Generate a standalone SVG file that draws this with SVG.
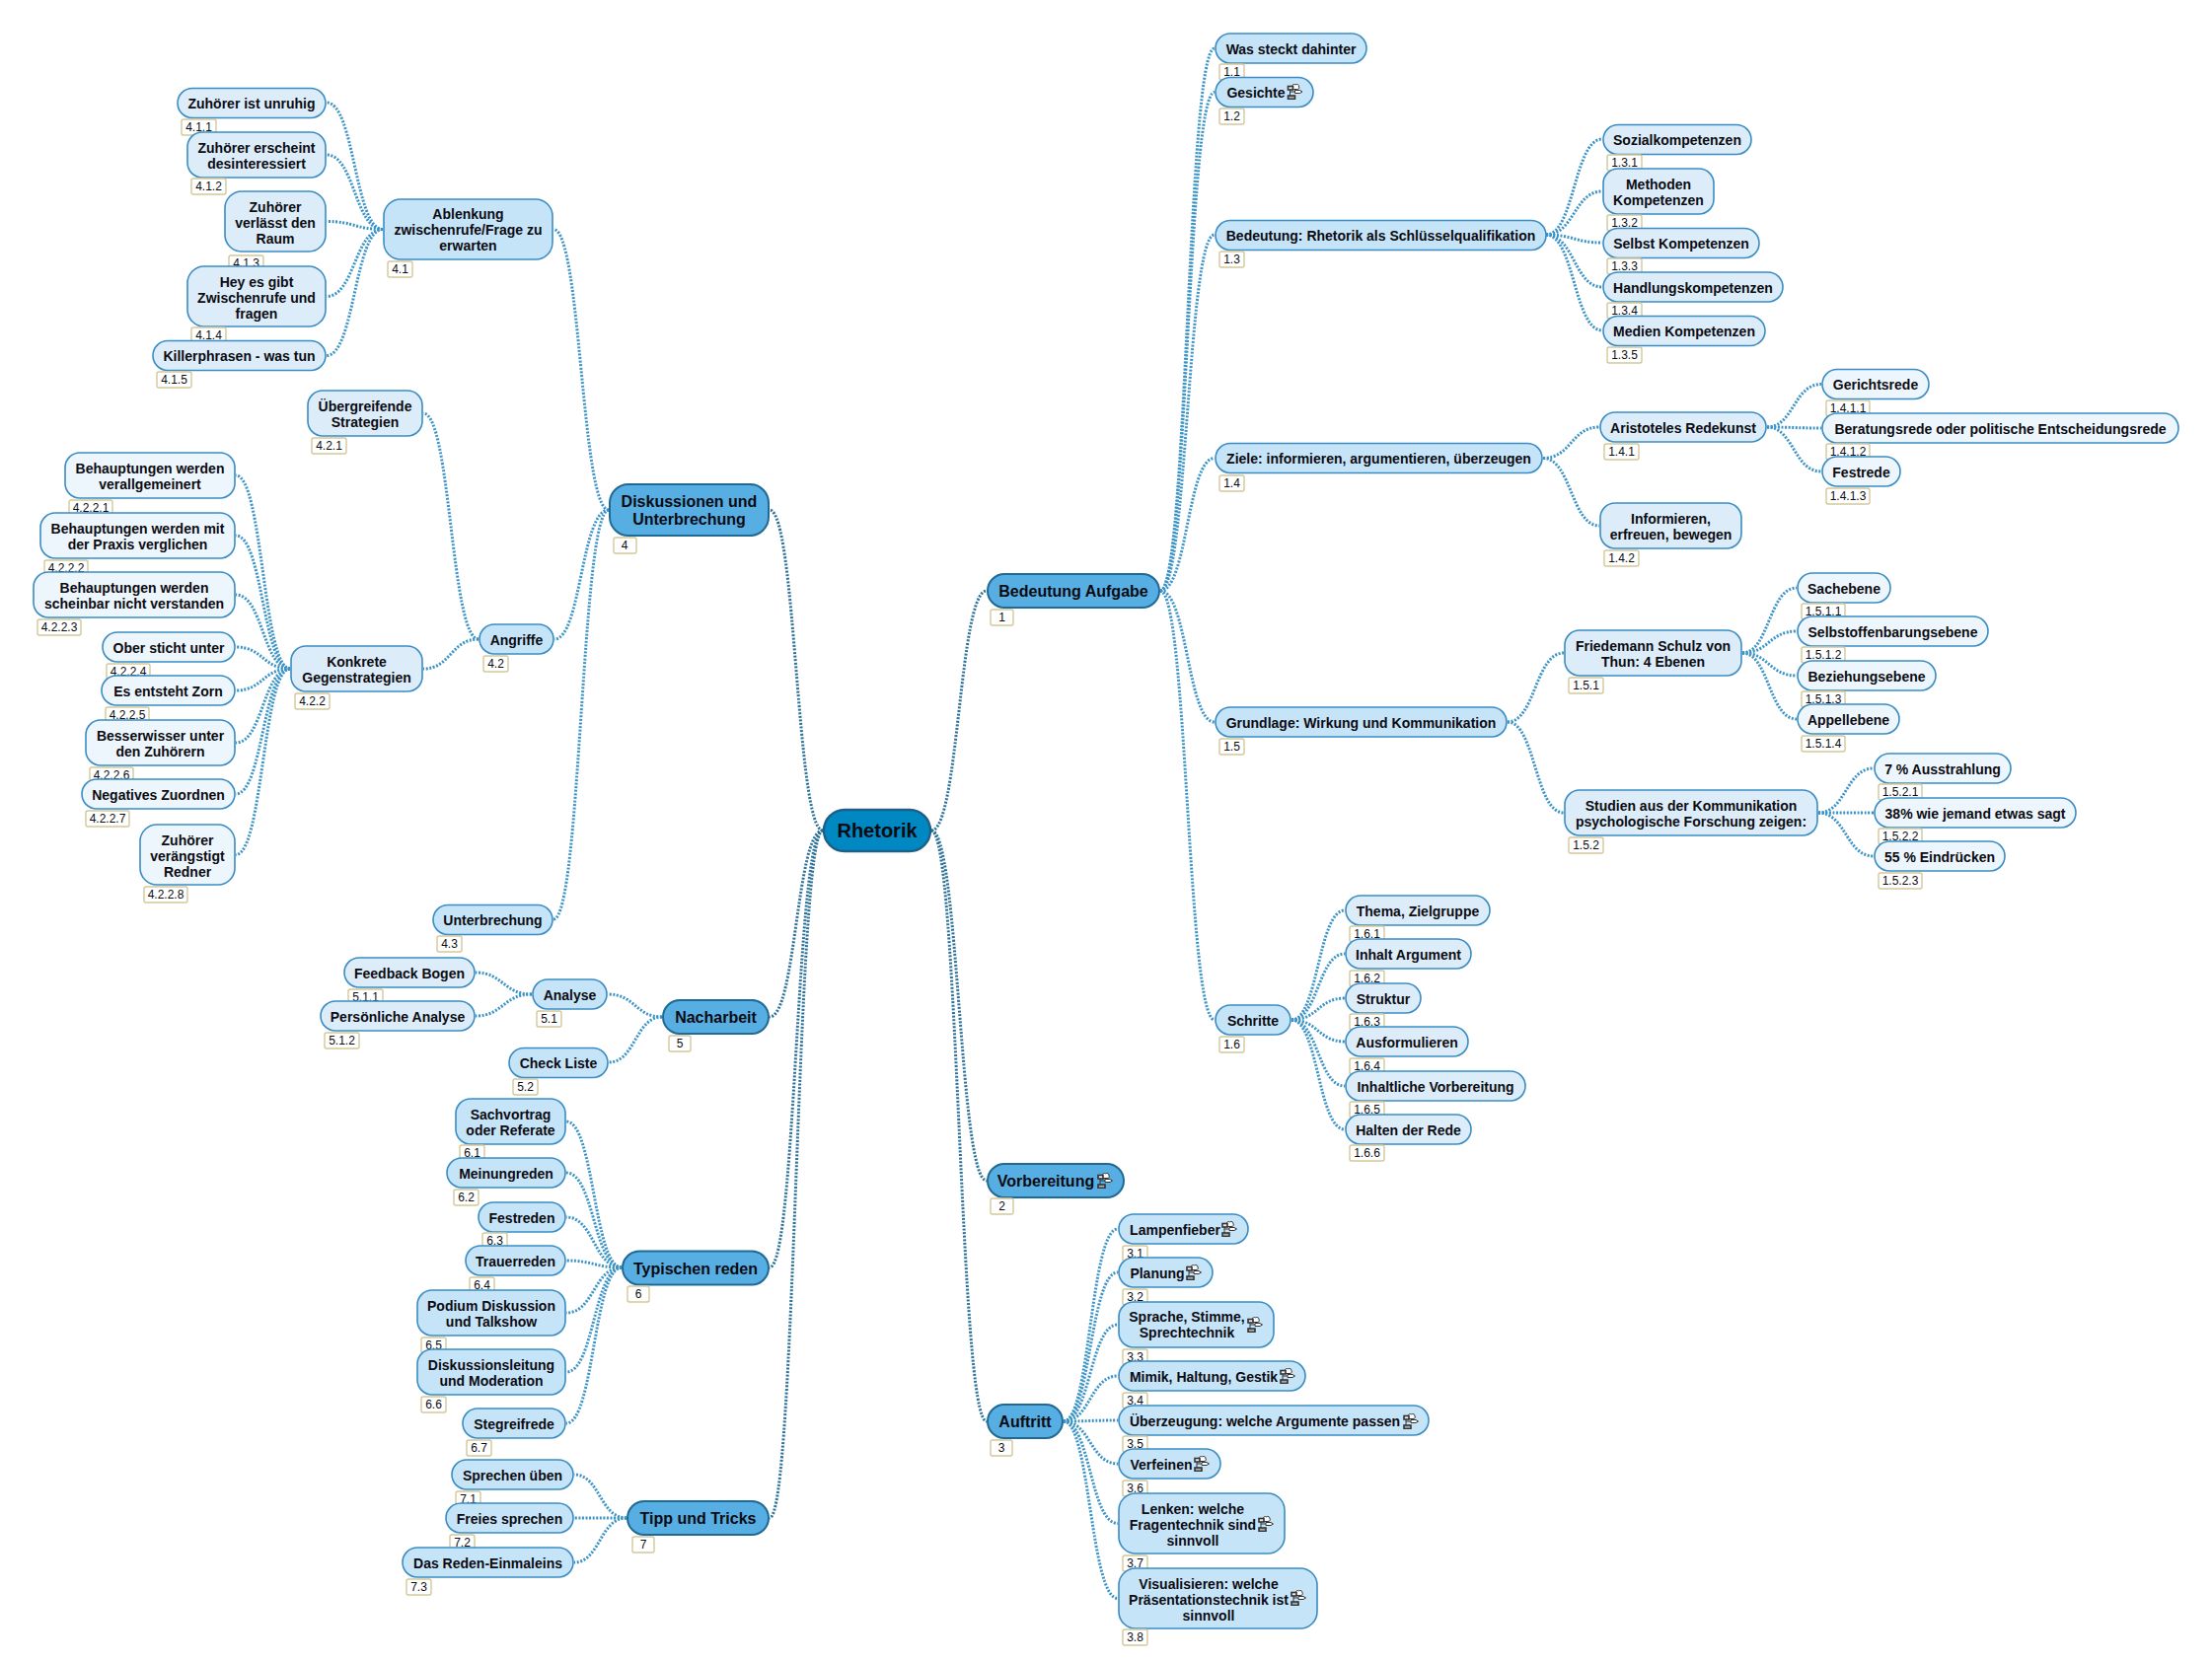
<svg xmlns="http://www.w3.org/2000/svg" width="2242" height="1685" viewBox="0 0 2242 1685">
<style>
text{font-family:"Liberation Sans",Arial,sans-serif;font-weight:bold;font-size:14px;fill:#0b0b12;text-anchor:middle}
rect{stroke-width:1.6}
.root rect.b{fill:#0088c2;stroke:#1d5f88;stroke-width:2.4}
.root text{font-size:20px}
.l1 rect.b{fill:#57aee3;stroke:#1f6a94;stroke-width:2}
.l1 text{font-size:16px}
.l2 rect.b{fill:#c6e4f8;stroke:#3a8dc4}
.l3 rect.b{fill:#dcedf9;stroke:#3a8dc4}
.l4 rect.b{fill:#edf6fc;stroke:#3a8dc4}
rect.k{fill:#fff;stroke:#d3c899;stroke-width:1.4}
text.n{font-size:12px;font-weight:normal}
#links path{fill:none;stroke-width:3;stroke-dasharray:2 1.6}
#links .c1{stroke:#2b7199}
#links .c2{stroke:#3b94c8}
</style>
<defs>
<symbol id="ic" viewBox="0 0 16 16">
<path d="M3 5V13M3 8H8" fill="none" stroke="#333" stroke-width="1"/>
<path d="M5.500 3.500C4.500 1 7 0 8.500 .8C10 0 12.500 .8 12 3C13 4 12 5.500 10 5.500H7C5.500 5.500 5 4.500 5.500 3.500Z" fill="#fff" stroke="#333" stroke-width="1"/>
<rect x="1" y="2.500" width="5" height="3.500" fill="#eee" stroke="#333" stroke-width="1"/>
<path d="M8 6.500H13L15.500 8L13 9.500H8Z" fill="#fff" stroke="#333" stroke-width="1"/>
<rect x="1" y="12" width="7" height="3.500" fill="#aaa" stroke="#333" stroke-width="1"/>
</symbol>
</defs>
<rect width="2242" height="1685" fill="#fff"/>
<g id="links">
<g class="c1">
<path d="M944 842C972 842 972 599 1000 599"/>
<path d="M944 842C972 842 972 1197 1000 1197"/>
<path d="M944 842C972 842 972 1441 1000 1441"/>
<path d="M834 842C807 842 807 517 780 517"/>
<path d="M834 842C807 842 807 1031 780 1031"/>
<path d="M834 842C807 842 807 1285 780 1285"/>
<path d="M834 842C807 842 807 1539 780 1539"/>
</g>
<g class="c2">
<path d="M1176 599C1203.500 599 1203.500 49 1231 49"/>
<path d="M1176 599C1203.500 599 1203.500 93.500 1231 93.500"/>
<path d="M1176 599C1203.500 599 1203.500 238 1231 238"/>
<path d="M1176 599C1203.500 599 1203.500 464.500 1231 464.500"/>
<path d="M1176 599C1203.500 599 1203.500 732 1231 732"/>
<path d="M1176 599C1203.500 599 1203.500 1034 1231 1034"/>
<path d="M1567 238C1595.500 238 1595.500 141 1624 141"/>
<path d="M1567 238C1595.500 238 1595.500 194 1624 194"/>
<path d="M1567 238C1595.500 238 1595.500 246 1624 246"/>
<path d="M1567 238C1595.500 238 1595.500 291 1624 291"/>
<path d="M1567 238C1595.500 238 1595.500 335 1624 335"/>
<path d="M1564 464.500C1592.500 464.500 1592.500 433 1621 433"/>
<path d="M1564 464.500C1592.500 464.500 1592.500 533 1621 533"/>
<path d="M1791 433C1818 433 1818 389.500 1846 389.500"/>
<path d="M1791 433C1818 433 1818 434 1846 434"/>
<path d="M1791 433C1818 433 1818 478 1846 478"/>
<path d="M1528 732C1556 732 1556 662 1585 662"/>
<path d="M1528 732C1556 732 1556 824 1585 824"/>
<path d="M1766 662C1793 662 1793 596 1821 596"/>
<path d="M1766 662C1793 662 1793 640 1821 640"/>
<path d="M1766 662C1793 662 1793 685 1821 685"/>
<path d="M1766 662C1793 662 1793 729 1821 729"/>
<path d="M1843 824C1871 824 1871 779 1899 779"/>
<path d="M1843 824C1871 824 1871 824 1899 824"/>
<path d="M1843 824C1871 824 1871 868 1899 868"/>
<path d="M1309 1034C1336 1034 1336 923 1363 923"/>
<path d="M1309 1034C1336 1034 1336 967 1363 967"/>
<path d="M1309 1034C1336 1034 1336 1012 1363 1012"/>
<path d="M1309 1034C1336 1034 1336 1056 1363 1056"/>
<path d="M1309 1034C1336 1034 1336 1101 1363 1101"/>
<path d="M1309 1034C1336 1034 1336 1145 1363 1145"/>
<path d="M1078 1441C1105 1441 1105 1246 1133 1246"/>
<path d="M1078 1441C1105 1441 1105 1290 1133 1290"/>
<path d="M1078 1441C1105 1441 1105 1343 1133 1343"/>
<path d="M1078 1441C1105 1441 1105 1395 1133 1395"/>
<path d="M1078 1441C1105 1441 1105 1440 1133 1440"/>
<path d="M1078 1441C1105 1441 1105 1484 1133 1484"/>
<path d="M1078 1441C1105 1441 1105 1544.500 1133 1544.500"/>
<path d="M1078 1441C1105 1441 1105 1620.500 1133 1620.500"/>
<path d="M617 517C589 517 589 232.500 561 232.500"/>
<path d="M617 517C589 517 589 648 562 648"/>
<path d="M617 517C589 517 589 932 561 932"/>
<path d="M388 232.500C359.500 232.500 359.500 104 331 104"/>
<path d="M388 232.500C359.500 232.500 359.500 157 331 157"/>
<path d="M388 232.500C359.500 232.500 359.500 224.500 331 224.500"/>
<path d="M388 232.500C359.500 232.500 359.500 300.500 331 300.500"/>
<path d="M388 232.500C359.500 232.500 359.500 360.500 331 360.500"/>
<path d="M485 648C457 648 457 419 429 419"/>
<path d="M485 648C457 648 457 678 429 678"/>
<path d="M294 678C266.500 678 266.500 482 239 482"/>
<path d="M294 678C266.500 678 266.500 543 239 543"/>
<path d="M294 678C266.500 678 266.500 603 239 603"/>
<path d="M294 678C266.500 678 266.500 656 239 656"/>
<path d="M294 678C266.500 678 266.500 700 239 700"/>
<path d="M294 678C266.500 678 266.500 753 239 753"/>
<path d="M294 678C266.500 678 266.500 805 239 805"/>
<path d="M294 678C266.500 678 266.500 866.500 239 866.500"/>
<path d="M671 1031C644 1031 644 1008 616 1008"/>
<path d="M671 1031C644 1031 644 1077 617 1077"/>
<path d="M539 1008C510 1008 510 986 482 986"/>
<path d="M539 1008C510 1008 510 1030 482 1030"/>
<path d="M630 1285C602 1285 602 1137 574 1137"/>
<path d="M630 1285C602 1285 602 1189 574 1189"/>
<path d="M630 1285C602 1285 602 1234 574 1234"/>
<path d="M630 1285C602 1285 602 1278 574 1278"/>
<path d="M630 1285C602 1285 602 1331 574 1331"/>
<path d="M630 1285C602 1285 602 1391 574 1391"/>
<path d="M630 1285C602 1285 602 1443 574 1443"/>
<path d="M635 1539C608 1539 608 1495 582 1495"/>
<path d="M635 1539C608 1539 608 1539 582 1539"/>
<path d="M635 1539C608 1539 608 1584 582 1584"/>
</g>
</g>
<g id="n0" class="root"><rect class="b" x="835" y="821" width="108" height="42" rx="21"/><text x="889" y="849">Rhetorik</text></g>

<g id="n1" class="l1"><rect class="b" x="1001" y="582" width="174" height="34" rx="17"/><text x="1088" y="605">Bedeutung Aufgabe</text><rect class="k" x="1004" y="618" width="23" height="16" rx="2"/><text class="n" x="1015.500" y="630">1</text></g>
<g id="n1-1" class="l2"><rect class="b" x="1232" y="34" width="153" height="30" rx="15"/><text x="1308.500" y="54.500">Was steckt dahinter</text><rect class="k" x="1236" y="65" width="25" height="16" rx="2"/><text class="n" x="1248.500" y="77">1.1</text></g>
<g id="n1-2" class="l2"><rect class="b" x="1232" y="78.500" width="99" height="30" rx="15"/><text x="1273" y="99">Gesichte</text><use href="#ic" x="1304" y="85" width="17" height="16"/><rect class="k" x="1236" y="110" width="25" height="16" rx="2"/><text class="n" x="1248.500" y="122">1.2</text></g>
<g id="n1-3" class="l2"><rect class="b" x="1232" y="223.500" width="335" height="30" rx="15"/><text x="1399.500" y="244">Bedeutung: Rhetorik als Schlüsselqualifikation</text><rect class="k" x="1236" y="255" width="25" height="16" rx="2"/><text class="n" x="1248.500" y="267">1.3</text></g>
<g id="n1-3-1" class="l3"><rect class="b" x="1625" y="126.500" width="150" height="30" rx="15"/><text x="1700" y="147">Sozialkompetenzen</text><rect class="k" x="1629" y="157" width="35" height="16" rx="2"/><text class="n" x="1646.500" y="169">1.3.1</text></g>
<g id="n1-3-2" class="l3"><rect class="b" x="1625" y="171" width="112" height="46" rx="15"/><text x="1681" y="191.500">Methoden<tspan x="1681" dy="16">Kompetenzen</tspan></text><rect class="k" x="1629" y="218" width="35" height="16" rx="2"/><text class="n" x="1646.500" y="230">1.3.2</text></g>
<g id="n1-3-3" class="l3"><rect class="b" x="1625" y="231.500" width="158" height="30" rx="15"/><text x="1704" y="252">Selbst Kompetenzen</text><rect class="k" x="1629" y="262" width="35" height="16" rx="2"/><text class="n" x="1646.500" y="274">1.3.3</text></g>
<g id="n1-3-4" class="l3"><rect class="b" x="1625" y="276" width="182" height="30" rx="15"/><text x="1716" y="296.500">Handlungskompetenzen</text><rect class="k" x="1629" y="307" width="35" height="16" rx="2"/><text class="n" x="1646.500" y="319">1.3.4</text></g>
<g id="n1-3-5" class="l3"><rect class="b" x="1625" y="320.500" width="164" height="30" rx="15"/><text x="1707" y="341">Medien Kompetenzen</text><rect class="k" x="1629" y="352" width="35" height="16" rx="2"/><text class="n" x="1646.500" y="364">1.3.5</text></g>
<g id="n1-4" class="l2"><rect class="b" x="1232" y="449.500" width="331" height="30" rx="15"/><text x="1397.500" y="470">Ziele: informieren, argumentieren, überzeugen</text><rect class="k" x="1236" y="482" width="25" height="16" rx="2"/><text class="n" x="1248.500" y="494">1.4</text></g>
<g id="n1-4-1" class="l3"><rect class="b" x="1622" y="418" width="168" height="30" rx="15"/><text x="1706" y="438.500">Aristoteles Redekunst</text><rect class="k" x="1626" y="450" width="35" height="16" rx="2"/><text class="n" x="1643.500" y="462">1.4.1</text></g>
<g id="n1-4-1-1" class="l4"><rect class="b" x="1847" y="374.500" width="108" height="30" rx="15"/><text x="1901" y="395">Gerichtsrede</text><rect class="k" x="1851" y="406" width="44" height="16" rx="2"/><text class="n" x="1873" y="418">1.4.1.1</text></g>
<g id="n1-4-1-2" class="l4"><rect class="b" x="1847" y="419" width="361" height="30" rx="15"/><text x="2027.500" y="439.500">Beratungsrede oder politische Entscheidungsrede</text><rect class="k" x="1851" y="450" width="44" height="16" rx="2"/><text class="n" x="1873" y="462">1.4.1.2</text></g>
<g id="n1-4-1-3" class="l4"><rect class="b" x="1847" y="463" width="79" height="30" rx="15"/><text x="1886.500" y="483.500">Festrede</text><rect class="k" x="1851" y="495" width="44" height="16" rx="2"/><text class="n" x="1873" y="507">1.4.1.3</text></g>
<g id="n1-4-2" class="l3"><rect class="b" x="1622" y="510" width="143" height="46" rx="15"/><text x="1693.500" y="530.500">Informieren,<tspan x="1693.500" dy="16">erfreuen, bewegen</tspan></text><rect class="k" x="1626" y="558" width="35" height="16" rx="2"/><text class="n" x="1643.500" y="570">1.4.2</text></g>
<g id="n1-5" class="l2"><rect class="b" x="1232" y="717" width="295" height="30" rx="15"/><text x="1379.500" y="737.500">Grundlage: Wirkung und Kommunikation</text><rect class="k" x="1236" y="749" width="25" height="16" rx="2"/><text class="n" x="1248.500" y="761">1.5</text></g>
<g id="n1-5-1" class="l3"><rect class="b" x="1586" y="639" width="179" height="46" rx="15"/><text x="1675.500" y="659.500">Friedemann Schulz von<tspan x="1675.500" dy="16">Thun: 4 Ebenen</tspan></text><rect class="k" x="1590" y="687" width="35" height="16" rx="2"/><text class="n" x="1607.500" y="699">1.5.1</text></g>
<g id="n1-5-1-1" class="l4"><rect class="b" x="1822" y="581" width="94" height="30" rx="15"/><text x="1869" y="601.500">Sachebene</text><rect class="k" x="1826" y="612" width="44" height="16" rx="2"/><text class="n" x="1848" y="624">1.5.1.1</text></g>
<g id="n1-5-1-2" class="l4"><rect class="b" x="1822" y="625" width="193" height="30" rx="15"/><text x="1918.500" y="645.500">Selbstoffenbarungsebene</text><rect class="k" x="1826" y="656" width="44" height="16" rx="2"/><text class="n" x="1848" y="668">1.5.1.2</text></g>
<g id="n1-5-1-3" class="l4"><rect class="b" x="1822" y="670" width="140" height="30" rx="15"/><text x="1892" y="690.500">Beziehungsebene</text><rect class="k" x="1826" y="701" width="44" height="16" rx="2"/><text class="n" x="1848" y="713">1.5.1.3</text></g>
<g id="n1-5-1-4" class="l4"><rect class="b" x="1822" y="714" width="103" height="30" rx="15"/><text x="1873.500" y="734.500">Appellebene</text><rect class="k" x="1826" y="746" width="44" height="16" rx="2"/><text class="n" x="1848" y="758">1.5.1.4</text></g>
<g id="n1-5-2" class="l3"><rect class="b" x="1586" y="801" width="256" height="46" rx="15"/><text x="1714" y="821.500">Studien aus der Kommunikation<tspan x="1714" dy="16">psychologische Forschung zeigen:</tspan></text><rect class="k" x="1590" y="849" width="35" height="16" rx="2"/><text class="n" x="1607.500" y="861">1.5.2</text></g>
<g id="n1-5-2-1" class="l4"><rect class="b" x="1900" y="764" width="138" height="30" rx="15"/><text x="1969" y="784.500">7 % Ausstrahlung</text><rect class="k" x="1904" y="795" width="44" height="16" rx="2"/><text class="n" x="1926" y="807">1.5.2.1</text></g>
<g id="n1-5-2-2" class="l4"><rect class="b" x="1900" y="809" width="204" height="30" rx="15"/><text x="2002" y="829.500">38% wie jemand etwas sagt</text><rect class="k" x="1904" y="840" width="44" height="16" rx="2"/><text class="n" x="1926" y="852">1.5.2.2</text></g>
<g id="n1-5-2-3" class="l4"><rect class="b" x="1900" y="853" width="132" height="30" rx="15"/><text x="1966" y="873.500">55 % Eindrücken</text><rect class="k" x="1904" y="885" width="44" height="16" rx="2"/><text class="n" x="1926" y="897">1.5.2.3</text></g>
<g id="n1-6" class="l2"><rect class="b" x="1232" y="1019" width="76" height="30" rx="15"/><text x="1270" y="1039.500">Schritte</text><rect class="k" x="1236" y="1051" width="25" height="16" rx="2"/><text class="n" x="1248.500" y="1063">1.6</text></g>
<g id="n1-6-1" class="l3"><rect class="b" x="1364" y="908" width="146" height="30" rx="15"/><text x="1437" y="928.500">Thema, Zielgruppe</text><rect class="k" x="1368" y="939" width="35" height="16" rx="2"/><text class="n" x="1385.500" y="951">1.6.1</text></g>
<g id="n1-6-2" class="l3"><rect class="b" x="1364" y="952" width="127" height="30" rx="15"/><text x="1427.500" y="972.500">Inhalt Argument</text><rect class="k" x="1368" y="984" width="35" height="16" rx="2"/><text class="n" x="1385.500" y="996">1.6.2</text></g>
<g id="n1-6-3" class="l3"><rect class="b" x="1364" y="997" width="76" height="30" rx="15"/><text x="1402" y="1017.500">Struktur</text><rect class="k" x="1368" y="1028" width="35" height="16" rx="2"/><text class="n" x="1385.500" y="1040">1.6.3</text></g>
<g id="n1-6-4" class="l3"><rect class="b" x="1364" y="1041" width="124" height="30" rx="15"/><text x="1426" y="1061.500">Ausformulieren</text><rect class="k" x="1368" y="1073" width="35" height="16" rx="2"/><text class="n" x="1385.500" y="1085">1.6.4</text></g>
<g id="n1-6-5" class="l3"><rect class="b" x="1364" y="1086" width="182" height="30" rx="15"/><text x="1455" y="1106.500">Inhaltliche Vorbereitung</text><rect class="k" x="1368" y="1117" width="35" height="16" rx="2"/><text class="n" x="1385.500" y="1129">1.6.5</text></g>
<g id="n1-6-6" class="l3"><rect class="b" x="1364" y="1130" width="127" height="30" rx="15"/><text x="1427.500" y="1150.500">Halten der Rede</text><rect class="k" x="1368" y="1161" width="35" height="16" rx="2"/><text class="n" x="1385.500" y="1173">1.6.6</text></g>

<g id="n2" class="l1"><rect class="b" x="1001" y="1180" width="138" height="34" rx="17"/><text x="1060" y="1203">Vorbereitung</text><use href="#ic" x="1112" y="1189" width="16" height="16"/><rect class="k" x="1004" y="1215" width="23" height="16" rx="2"/><text class="n" x="1015.500" y="1227">2</text></g>

<g id="n3" class="l1"><rect class="b" x="1001" y="1424" width="76" height="34" rx="17"/><text x="1039" y="1447">Auftritt</text><rect class="k" x="1004" y="1460" width="22" height="16" rx="2"/><text class="n" x="1015" y="1472">3</text></g>
<g id="n3-1" class="l2"><rect class="b" x="1134" y="1231" width="131" height="30" rx="15"/><text x="1191" y="1251.500">Lampenfieber</text><use href="#ic" x="1238" y="1238" width="16" height="16"/><rect class="k" x="1138" y="1263" width="25" height="16" rx="2"/><text class="n" x="1150.500" y="1275">3.1</text></g>
<g id="n3-2" class="l2"><rect class="b" x="1134" y="1275" width="95" height="30" rx="15"/><text x="1173" y="1295.500">Planung</text><use href="#ic" x="1202" y="1282" width="16" height="16"/><rect class="k" x="1138" y="1307" width="25" height="16" rx="2"/><text class="n" x="1150.500" y="1319">3.2</text></g>
<g id="n3-3" class="l2"><rect class="b" x="1134" y="1320" width="157" height="46" rx="15"/><text x="1203" y="1340">Sprache, Stimme,<tspan x="1203" dy="16">Sprechtechnik</tspan></text><use href="#ic" x="1264" y="1335" width="16" height="16"/><rect class="k" x="1138" y="1368" width="25" height="16" rx="2"/><text class="n" x="1150.500" y="1380">3.3</text></g>
<g id="n3-4" class="l2"><rect class="b" x="1134" y="1380" width="189" height="30" rx="15"/><text x="1220" y="1400.500">Mimik, Haltung, Gestik</text><use href="#ic" x="1297" y="1387" width="16" height="16"/><rect class="k" x="1138" y="1412" width="25" height="16" rx="2"/><text class="n" x="1150.500" y="1424">3.4</text></g>
<g id="n3-5" class="l2"><rect class="b" x="1134" y="1425" width="314" height="30" rx="15"/><text x="1282" y="1445.500">Überzeugung: welche Argumente passen</text><use href="#ic" x="1422" y="1433" width="16" height="16"/><rect class="k" x="1138" y="1456" width="25" height="16" rx="2"/><text class="n" x="1150.500" y="1468">3.5</text></g>
<g id="n3-6" class="l2"><rect class="b" x="1134" y="1469" width="103" height="30" rx="15"/><text x="1177" y="1489.500">Verfeinen</text><use href="#ic" x="1210" y="1476" width="16" height="16"/><rect class="k" x="1138" y="1501" width="25" height="16" rx="2"/><text class="n" x="1150.500" y="1513">3.6</text></g>
<g id="n3-7" class="l2"><rect class="b" x="1134" y="1514" width="168" height="61" rx="17"/><text x="1209" y="1535">Lenken: welche<tspan x="1209" dy="16">Fragentechnik sind</tspan><tspan x="1209" dy="16">sinnvoll</tspan></text><use href="#ic" x="1275" y="1537" width="16" height="16"/><rect class="k" x="1138" y="1577" width="25" height="16" rx="2"/><text class="n" x="1150.500" y="1589">3.7</text></g>
<g id="n3-8" class="l2"><rect class="b" x="1134" y="1590" width="201" height="61" rx="17"/><text x="1225" y="1611">Visualisieren: welche<tspan x="1225" dy="16">Präsentationstechnik ist</tspan><tspan x="1225" dy="16">sinnvoll</tspan></text><use href="#ic" x="1308" y="1612" width="16" height="16"/><rect class="k" x="1138" y="1652" width="25" height="16" rx="2"/><text class="n" x="1150.500" y="1664">3.8</text></g>

<g id="n4" class="l1"><rect class="b" x="618" y="491" width="161" height="52" rx="19"/><text x="698.500" y="514">Diskussionen und<tspan x="698.500" dy="18">Unterbrechung</tspan></text><rect class="k" x="622" y="545" width="23" height="16" rx="2"/><text class="n" x="633" y="557">4</text></g>
<g id="n4-1" class="l2"><rect class="b" x="389" y="202" width="171" height="61" rx="17"/><text x="474.500" y="222">Ablenkung<tspan x="474.500" dy="16">zwischenrufe/Frage zu</tspan><tspan x="474.500" dy="16">erwarten</tspan></text><rect class="k" x="393" y="265" width="25" height="16" rx="2"/><text class="n" x="405.500" y="277">4.1</text></g>
<g id="n4-1-1" class="l3"><rect class="b" x="180" y="89.500" width="150" height="30" rx="15"/><text x="255" y="110">Zuhörer ist unruhig</text><rect class="k" x="184" y="121" width="35" height="16" rx="2"/><text class="n" x="201.500" y="133">4.1.1</text></g>
<g id="n4-1-2" class="l3"><rect class="b" x="190" y="134" width="140" height="46" rx="15"/><text x="260" y="154.500">Zuhörer erscheint<tspan x="260" dy="16">desinteressiert</tspan></text><rect class="k" x="194" y="181" width="35" height="16" rx="2"/><text class="n" x="211.500" y="193">4.1.2</text></g>
<g id="n4-1-3" class="l3"><rect class="b" x="228" y="194" width="102" height="61" rx="17"/><text x="279" y="215">Zuhörer<tspan x="279" dy="16">verlässt den</tspan><tspan x="279" dy="16">Raum</tspan></text><rect class="k" x="232" y="259" width="35" height="16" rx="2"/><text class="n" x="249.500" y="271">4.1.3</text></g>
<g id="n4-1-4" class="l3"><rect class="b" x="190" y="270" width="140" height="61" rx="17"/><text x="260" y="291">Hey es gibt<tspan x="260" dy="16">Zwischenrufe und</tspan><tspan x="260" dy="16">fragen</tspan></text><rect class="k" x="194" y="332" width="35" height="16" rx="2"/><text class="n" x="211.500" y="344">4.1.4</text></g>
<g id="n4-1-5" class="l3"><rect class="b" x="155" y="345.500" width="175" height="30" rx="15"/><text x="242.500" y="366">Killerphrasen - was tun</text><rect class="k" x="159" y="377" width="35" height="16" rx="2"/><text class="n" x="176.500" y="389">4.1.5</text></g>
<g id="n4-2" class="l2"><rect class="b" x="486" y="633" width="75" height="30" rx="15"/><text x="523.500" y="653.500">Angriffe</text><rect class="k" x="490" y="665" width="25" height="16" rx="2"/><text class="n" x="502.500" y="677">4.2</text></g>
<g id="n4-2-1" class="l3"><rect class="b" x="312" y="396" width="116" height="46" rx="15"/><text x="370" y="416.500">Übergreifende<tspan x="370" dy="16">Strategien</tspan></text><rect class="k" x="316" y="444" width="35" height="16" rx="2"/><text class="n" x="333.500" y="456">4.2.1</text></g>
<g id="n4-2-2" class="l3"><rect class="b" x="295" y="655" width="133" height="46" rx="15"/><text x="361.500" y="675.500">Konkrete<tspan x="361.500" dy="16">Gegenstrategien</tspan></text><rect class="k" x="299" y="703" width="35" height="16" rx="2"/><text class="n" x="316.500" y="715">4.2.2</text></g>
<g id="n4-2-2-1" class="l4"><rect class="b" x="66" y="459" width="172" height="46" rx="15"/><text x="152" y="479.500">Behauptungen werden<tspan x="152" dy="16">verallgemeinert</tspan></text><rect class="k" x="70" y="507" width="44" height="16" rx="2"/><text class="n" x="92" y="519">4.2.2.1</text></g>
<g id="n4-2-2-2" class="l4"><rect class="b" x="41" y="520" width="197" height="46" rx="15"/><text x="139.500" y="540.500">Behauptungen werden mit<tspan x="139.500" dy="16">der Praxis verglichen</tspan></text><rect class="k" x="45" y="568" width="44" height="16" rx="2"/><text class="n" x="67" y="580">4.2.2.2</text></g>
<g id="n4-2-2-3" class="l4"><rect class="b" x="34" y="580" width="204" height="46" rx="15"/><text x="136" y="600.500">Behauptungen werden<tspan x="136" dy="16">scheinbar nicht verstanden</tspan></text><rect class="k" x="38" y="628" width="44" height="16" rx="2"/><text class="n" x="60" y="640">4.2.2.3</text></g>
<g id="n4-2-2-4" class="l4"><rect class="b" x="104" y="641" width="134" height="30" rx="15"/><text x="171" y="661.500">Ober sticht unter</text><rect class="k" x="108" y="673" width="44" height="16" rx="2"/><text class="n" x="130" y="685">4.2.2.4</text></g>
<g id="n4-2-2-5" class="l4"><rect class="b" x="103" y="685" width="135" height="30" rx="15"/><text x="170.500" y="705.500">Es entsteht Zorn</text><rect class="k" x="107" y="717" width="44" height="16" rx="2"/><text class="n" x="129" y="729">4.2.2.5</text></g>
<g id="n4-2-2-6" class="l4"><rect class="b" x="87" y="730" width="151" height="46" rx="15"/><text x="162.500" y="750.500">Besserwisser unter<tspan x="162.500" dy="16">den Zuhörern</tspan></text><rect class="k" x="91" y="778" width="44" height="16" rx="2"/><text class="n" x="113" y="790">4.2.2.6</text></g>
<g id="n4-2-2-7" class="l4"><rect class="b" x="83" y="790" width="155" height="30" rx="15"/><text x="160.500" y="810.500">Negatives Zuordnen</text><rect class="k" x="87" y="822" width="44" height="16" rx="2"/><text class="n" x="109" y="834">4.2.2.7</text></g>
<g id="n4-2-2-8" class="l4"><rect class="b" x="142" y="836" width="96" height="61" rx="17"/><text x="190" y="857">Zuhörer<tspan x="190" dy="16">verängstigt</tspan><tspan x="190" dy="16">Redner</tspan></text><rect class="k" x="146" y="899" width="44" height="16" rx="2"/><text class="n" x="168" y="911">4.2.2.8</text></g>
<g id="n4-3" class="l2"><rect class="b" x="439" y="917.500" width="121" height="30" rx="15"/><text x="499.500" y="938">Unterbrechung</text><rect class="k" x="443" y="949" width="25" height="16" rx="2"/><text class="n" x="455.500" y="961">4.3</text></g>

<g id="n5" class="l1"><rect class="b" x="672" y="1014" width="107" height="34" rx="17"/><text x="725.500" y="1037">Nacharbeit</text><rect class="k" x="678" y="1050" width="22" height="16" rx="2"/><text class="n" x="689" y="1062">5</text></g>
<g id="n5-1" class="l2"><rect class="b" x="540" y="993" width="75" height="30" rx="15"/><text x="577.500" y="1013.500">Analyse</text><rect class="k" x="544" y="1025" width="25" height="16" rx="2"/><text class="n" x="556.500" y="1037">5.1</text></g>
<g id="n5-1-1" class="l3"><rect class="b" x="349" y="971" width="132" height="30" rx="15"/><text x="415" y="991.500">Feedback Bogen</text><rect class="k" x="353" y="1003" width="35" height="16" rx="2"/><text class="n" x="370.500" y="1015">5.1.1</text></g>
<g id="n5-1-2" class="l3"><rect class="b" x="325" y="1015" width="156" height="30" rx="15"/><text x="403" y="1035.500">Persönliche Analyse</text><rect class="k" x="329" y="1047" width="35" height="16" rx="2"/><text class="n" x="346.500" y="1059">5.1.2</text></g>
<g id="n5-2" class="l2"><rect class="b" x="516" y="1062.500" width="100" height="30" rx="15"/><text x="566" y="1083">Check Liste</text><rect class="k" x="520" y="1094" width="25" height="16" rx="2"/><text class="n" x="532.500" y="1106">5.2</text></g>

<g id="n6" class="l1"><rect class="b" x="631" y="1268.500" width="148" height="34" rx="17"/><text x="705" y="1291.500">Typischen reden</text><rect class="k" x="636" y="1304" width="22" height="16" rx="2"/><text class="n" x="647" y="1316">6</text></g>
<g id="n6-1" class="l2"><rect class="b" x="462" y="1114" width="111" height="46" rx="15"/><text x="517.500" y="1134.500">Sachvortrag<tspan x="517.500" dy="16">oder Referate</tspan></text><rect class="k" x="466" y="1161" width="25" height="16" rx="2"/><text class="n" x="478.500" y="1173">6.1</text></g>
<g id="n6-2" class="l2"><rect class="b" x="453" y="1174" width="120" height="30" rx="15"/><text x="513" y="1194.500">Meinungreden</text><rect class="k" x="460" y="1206" width="25" height="16" rx="2"/><text class="n" x="472.500" y="1218">6.2</text></g>
<g id="n6-3" class="l2"><rect class="b" x="485" y="1219" width="88" height="30" rx="15"/><text x="529" y="1239.500">Festreden</text><rect class="k" x="489" y="1250" width="25" height="16" rx="2"/><text class="n" x="501.500" y="1262">6.3</text></g>
<g id="n6-4" class="l2"><rect class="b" x="472" y="1263" width="101" height="30" rx="15"/><text x="522.500" y="1283.500">Trauerreden</text><rect class="k" x="476" y="1295" width="25" height="16" rx="2"/><text class="n" x="488.500" y="1307">6.4</text></g>
<g id="n6-5" class="l2"><rect class="b" x="423" y="1308" width="150" height="46" rx="15"/><text x="498" y="1328.500">Podium Diskussion<tspan x="498" dy="16">und Talkshow</tspan></text><rect class="k" x="427" y="1356" width="25" height="16" rx="2"/><text class="n" x="439.500" y="1368">6.5</text></g>
<g id="n6-6" class="l2"><rect class="b" x="423" y="1368" width="150" height="46" rx="15"/><text x="498" y="1388.500">Diskussionsleitung<tspan x="498" dy="16">und Moderation</tspan></text><rect class="k" x="427" y="1416" width="25" height="16" rx="2"/><text class="n" x="439.500" y="1428">6.6</text></g>
<g id="n6-7" class="l2"><rect class="b" x="469" y="1428" width="104" height="30" rx="15"/><text x="521" y="1448.500">Stegreifrede</text><rect class="k" x="473" y="1460" width="25" height="16" rx="2"/><text class="n" x="485.500" y="1472">6.7</text></g>

<g id="n7" class="l1"><rect class="b" x="636" y="1522" width="143" height="34" rx="17"/><text x="707.500" y="1545">Tipp und Tricks</text><rect class="k" x="641" y="1558" width="22" height="16" rx="2"/><text class="n" x="652" y="1570">7</text></g>
<g id="n7-1" class="l2"><rect class="b" x="458" y="1480" width="123" height="30" rx="15"/><text x="519.500" y="1500.500">Sprechen üben</text><rect class="k" x="462" y="1512" width="25" height="16" rx="2"/><text class="n" x="474.500" y="1524">7.1</text></g>
<g id="n7-2" class="l2"><rect class="b" x="452" y="1524" width="129" height="30" rx="15"/><text x="516.500" y="1544.500">Freies sprechen</text><rect class="k" x="456" y="1556" width="25" height="16" rx="2"/><text class="n" x="468.500" y="1568">7.2</text></g>
<g id="n7-3" class="l2"><rect class="b" x="408" y="1569" width="173" height="30" rx="15"/><text x="494.500" y="1589.500">Das Reden-Einmaleins</text><rect class="k" x="412" y="1601" width="25" height="16" rx="2"/><text class="n" x="424.500" y="1613">7.3</text></g>
</svg>
